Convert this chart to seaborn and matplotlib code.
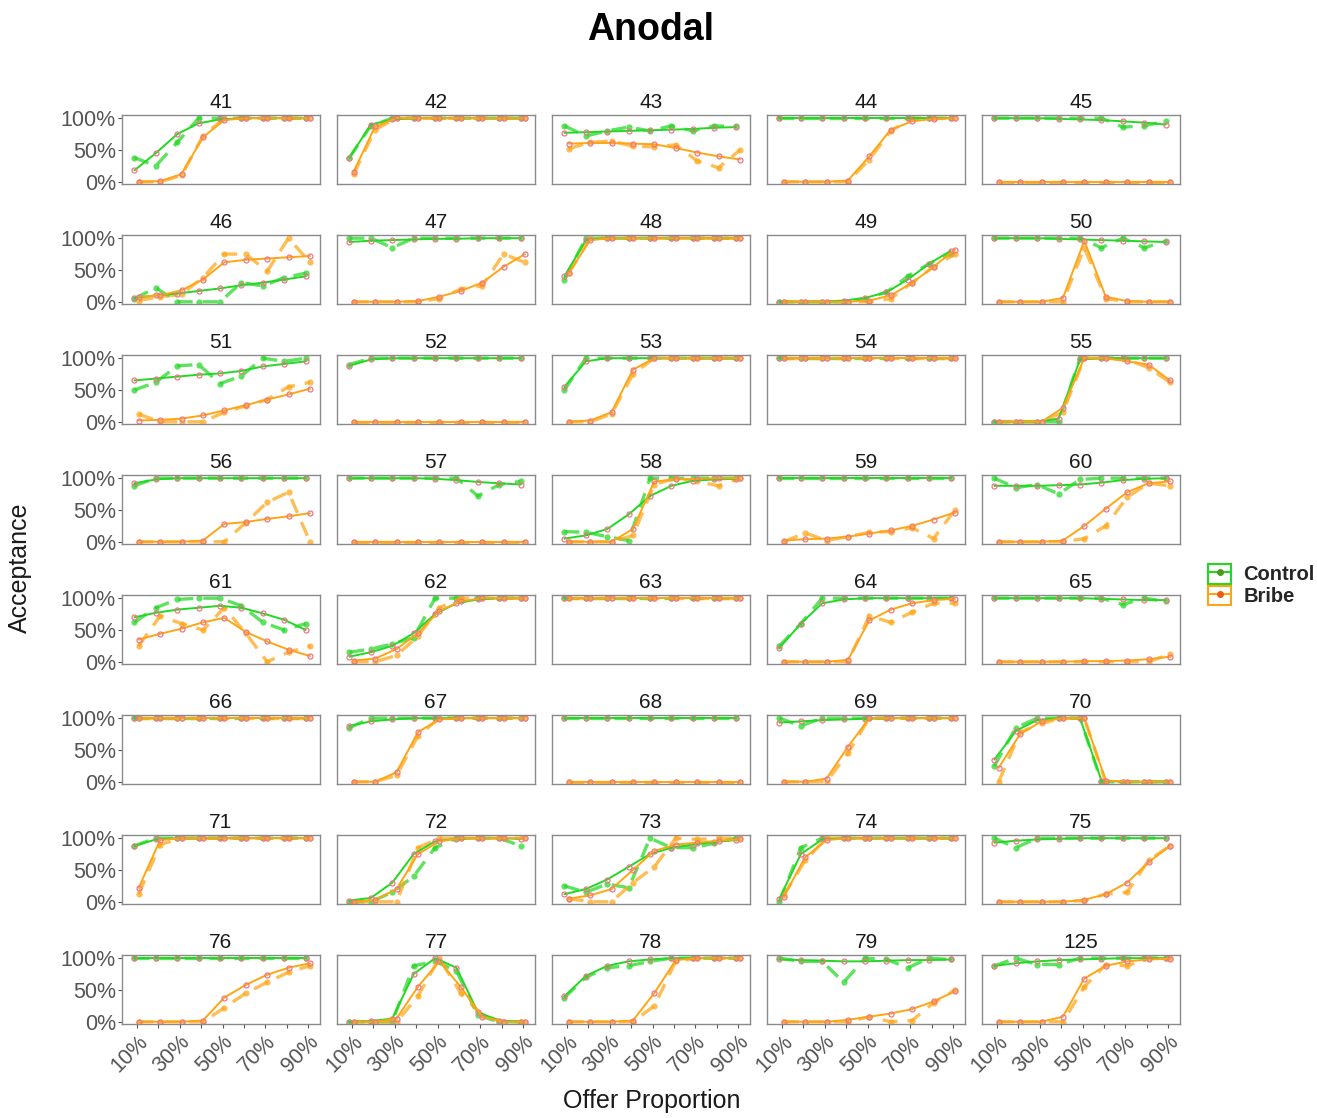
import numpy as np
import pandas as pd
import seaborn as sns
import matplotlib
matplotlib.use("Agg")
import matplotlib.pyplot as plt
from matplotlib.patches import Rectangle
from matplotlib.lines import Line2D
from matplotlib.legend_handler import HandlerTuple

offers = [0.1, 0.2, 0.3, 0.4, 0.5, 0.6, 0.7, 0.8, 0.9]
offer_labels = ["10%", "", "30%", "", "50%", "", "70%", "", "90%"]
subjects = ["41", "42", "43", "44", "45", "46", "47", "48", "49", "50",
            "51", "52", "53", "54", "55", "56", "57", "58", "59", "60",
            "61", "62", "63", "64", "65", "66", "67", "68", "69", "70",
            "71", "72", "73", "74", "75", "76", "77", "78", "79", "125"]

control_fitted = [
    [0.18, 0.45, 0.75, 0.92, 0.98, 1, 1, 1, 1],
    [0.38, 0.90, 0.98, 1, 1, 1, 1, 1, 1],
    [0.77, 0.78, 0.79, 0.80, 0.81, 0.82, 0.83, 0.85, 0.86],
    [1, 1, 1, 1, 1, 1, 1, 1, 1],
    [1, 1, 1, 0.99, 0.98, 0.97, 0.95, 0.93, 0.90],
    [0.06, 0.10, 0.13, 0.17, 0.21, 0.26, 0.30, 0.35, 0.40],
    [0.94, 0.96, 0.97, 0.98, 0.99, 0.99, 1, 1, 1],
    [0.40, 0.97, 1, 1, 1, 1, 1, 1, 1],
    [0, 0, 0, 0.02, 0.06, 0.15, 0.35, 0.60, 0.80],
    [1, 1, 1, 0.99, 0.98, 0.97, 0.96, 0.95, 0.94],
    [0.65, 0.68, 0.71, 0.74, 0.76, 0.80, 0.87, 0.91, 0.95],
    [0.88, 0.98, 1, 1, 1, 1, 1, 1, 1],
    [0.55, 0.95, 1, 1, 1, 1, 1, 1, 1],
    [1, 1, 1, 1, 1, 1, 1, 1, 1],
    [0, 0, 0, 0.05, 0.98, 1, 1, 1, 1],
    [0.92, 0.98, 1, 1, 1, 1, 1, 1, 1],
    [1, 1, 1, 1, 0.99, 0.97, 0.94, 0.92, 0.90],
    [0.05, 0.10, 0.20, 0.43, 0.72, 0.88, 0.96, 0.98, 0.99],
    [1, 1, 1, 1, 1, 1, 1, 1, 1],
    [0.88, 0.88, 0.88, 0.89, 0.90, 0.93, 0.97, 0.99, 1],
    [0.70, 0.77, 0.82, 0.85, 0.88, 0.85, 0.76, 0.66, 0.50],
    [0.08, 0.15, 0.25, 0.45, 0.75, 0.92, 0.98, 1, 1],
    [1, 1, 1, 1, 1, 1, 1, 1, 1],
    [0.22, 0.60, 0.92, 0.98, 1, 1, 1, 1, 1],
    [1, 1, 1, 1, 1, 0.99, 0.98, 0.97, 0.97],
    [1, 1, 1, 1, 1, 1, 1, 1, 1],
    [0.88, 0.95, 0.98, 1, 1, 1, 1, 1, 1],
    [1, 1, 1, 1, 1, 1, 1, 1, 1],
    [0.93, 0.95, 0.97, 0.98, 0.99, 1, 1, 1, 1],
    [0.35, 0.80, 0.97, 1, 1, 0.02, 0, 0, 0],
    [0.88, 0.98, 1, 1, 1, 1, 1, 1, 1],
    [0.02, 0.06, 0.30, 0.75, 0.95, 0.99, 1, 1, 0.99],
    [0.12, 0.20, 0.35, 0.55, 0.75, 0.85, 0.90, 0.94, 0.97],
    [0.05, 0.75, 0.98, 1, 1, 1, 1, 1, 1],
    [0.93, 0.96, 0.98, 0.99, 1, 1, 1, 1, 1],
    [1, 1, 1, 1, 1, 1, 1, 1, 1],
    [0, 0.01, 0.05, 0.75, 1, 0.85, 0.15, 0.02, 0],
    [0.40, 0.72, 0.88, 0.95, 0.98, 1, 1, 1, 1],
    [0.98, 0.97, 0.96, 0.95, 0.95, 0.96, 0.97, 0.97, 0.98],
    [0.88, 0.92, 0.95, 0.97, 0.98, 0.99, 1, 1, 1],
]

control_observed = [
    [0.38, 0.25, 0.62, 1, 1, 1, 1, 1, 1],
    [0.38, 0.88, 1, 1, 1, 1, 1, 1, 1],
    [0.88, 0.72, 0.80, 0.86, 0.80, 0.88, 0.80, 0.88, 0.87],
    [1, 1, 1, 1, 1, 1, 1, 1, 1],
    [1, 1, 1, 1, 1, 1, 0.86, 0.88, 0.95],
    [0.05, 0.22, 0.0, 0.0, 0.0, 0.30, 0.25, 0.38, 0.45],
    [1, 1, 0.85, 1, 1, 1, 1, 1, 1],
    [0.35, 1, 1, 1, 1, 1, 1, 1, 1],
    [0, 0, 0, 0, 0.05, 0.15, 0.40, 0.60, 0.75],
    [1, 1, 1, 1, 1, 0.85, 1, 0.85, 0.95],
    [0.50, 0.62, 0.88, 0.90, 0.60, 0.72, 1, 0.95, 1],
    [0.90, 1, 1, 1, 1, 1, 1, 1, 1],
    [0.50, 1, 1, 1, 1, 1, 1, 1, 1],
    [1, 1, 1, 1, 1, 1, 1, 1, 1],
    [0, 0, 0, 0, 1, 1, 1, 1, 1],
    [0.88, 1, 1, 1, 1, 1, 1, 1, 1],
    [1, 1, 1, 1, 1, 1, 0.72, 0.90, 0.95],
    [0.16, 0.15, 0.08, 0.02, 1, 1, 1, 1, 1],
    [1, 1, 1, 1, 1, 1, 1, 1, 1],
    [1, 0.85, 0.90, 0.75, 0.98, 1, 1, 1, 1],
    [0.62, 0.85, 0.98, 1, 1, 0.88, 0.62, 0.50, 0.60],
    [0.15, 0.20, 0.28, 0.38, 1, 1, 1, 1, 1],
    [1, 1, 1, 1, 1, 1, 1, 1, 1],
    [0.25, 0.60, 1, 1, 1, 1, 1, 1, 1],
    [1, 1, 1, 1, 1, 1, 0.90, 1, 0.95],
    [1, 1, 1, 1, 1, 1, 1, 1, 1],
    [0.85, 1, 1, 1, 1, 1, 1, 1, 1],
    [1, 1, 1, 1, 1, 1, 1, 1, 1],
    [1, 0.88, 1, 1, 1, 1, 1, 1, 1],
    [0.25, 0.85, 1, 1, 1, 0, 0, 0, 0],
    [0.88, 1, 1, 1, 1, 1, 1, 1, 1],
    [0, 0, 0.15, 0.40, 0.85, 1, 1, 1, 0.88],
    [0.25, 0.15, 0.28, 0.22, 1, 0.85, 0.85, 0.92, 1],
    [0, 0.85, 1, 1, 1, 1, 1, 1, 1],
    [1, 0.85, 1, 1, 1, 1, 1, 1, 1],
    [1, 1, 1, 1, 1, 1, 1, 1, 1],
    [0, 0, 0, 0.88, 0.95, 0.80, 0.10, 0, 0],
    [0.38, 0.70, 0.85, 0.88, 0.95, 1, 1, 1, 1],
    [1, 0.95, 0.95, 0.62, 1, 0.98, 0.85, 1, 0.98],
    [0.88, 1, 0.90, 0.90, 1, 1, 1, 1, 1],
]

bribe_fitted = [
    [0, 0.01, 0.12, 0.70, 0.97, 1, 1, 1, 1],
    [0.16, 0.87, 1, 1, 1, 1, 1, 1, 1],
    [0.60, 0.61, 0.61, 0.60, 0.59, 0.53, 0.46, 0.40, 0.35],
    [0, 0, 0, 0.02, 0.40, 0.82, 0.95, 0.99, 1],
    [0, 0, 0, 0, 0, 0, 0, 0, 0],
    [0.08, 0.10, 0.18, 0.35, 0.62, 0.66, 0.68, 0.70, 0.72],
    [0, 0, 0, 0.01, 0.08, 0.17, 0.30, 0.55, 0.75],
    [0.45, 0.97, 1, 1, 1, 1, 1, 1, 1],
    [0, 0, 0, 0, 0.02, 0.10, 0.30, 0.55, 0.82],
    [0, 0, 0, 0.06, 0.96, 0.08, 0.01, 0, 0],
    [0.02, 0.03, 0.05, 0.10, 0.18, 0.26, 0.35, 0.43, 0.52],
    [0, 0, 0, 0, 0, 0, 0, 0, 0],
    [0, 0.02, 0.15, 0.82, 1, 1, 1, 1, 1],
    [1, 1, 1, 1, 1, 1, 1, 1, 1],
    [0, 0, 0, 0.22, 1, 1, 0.95, 0.90, 0.65],
    [0, 0, 0, 0.02, 0.28, 0.31, 0.36, 0.40, 0.45],
    [0, 0, 0, 0, 0, 0, 0, 0, 0],
    [0, 0, 0, 0.20, 0.95, 0.98, 0.99, 1, 1],
    [0.02, 0.04, 0.05, 0.08, 0.13, 0.18, 0.25, 0.35, 0.46],
    [0, 0, 0, 0.02, 0.25, 0.52, 0.78, 0.92, 0.95],
    [0.35, 0.44, 0.52, 0.62, 0.69, 0.47, 0.32, 0.19, 0.09],
    [0.02, 0.05, 0.20, 0.45, 0.80, 0.95, 1, 1, 1],
    [1, 1, 1, 1, 1, 1, 1, 1, 1],
    [0, 0, 0, 0.03, 0.65, 0.82, 0.92, 0.97, 0.99],
    [0, 0, 0, 0, 0.01, 0.01, 0.02, 0.04, 0.08],
    [1, 1, 1, 1, 1, 1, 1, 1, 1],
    [0, 0, 0.15, 0.78, 0.98, 1, 1, 1, 1],
    [0, 0, 0, 0, 0, 0, 0, 0, 0],
    [0, 0, 0.05, 0.55, 1, 1, 1, 1, 1],
    [0.22, 0.75, 0.95, 1, 1, 0.02, 0, 0, 0],
    [0.22, 0.97, 1, 1, 1, 1, 1, 1, 1],
    [0, 0.03, 0.20, 0.75, 0.95, 1, 1, 1, 1],
    [0.05, 0.10, 0.20, 0.50, 0.80, 0.90, 0.93, 0.96, 0.98],
    [0.08, 0.70, 0.97, 1, 1, 1, 1, 1, 1],
    [0, 0, 0, 0, 0.03, 0.12, 0.30, 0.62, 0.88],
    [0, 0, 0, 0.02, 0.38, 0.58, 0.74, 0.85, 0.92],
    [0, 0, 0.05, 0.55, 0.95, 0.55, 0.08, 0, 0],
    [0, 0, 0, 0.02, 0.45, 0.97, 1, 1, 1],
    [0, 0, 0, 0.03, 0.08, 0.13, 0.20, 0.32, 0.48],
    [0, 0, 0, 0.08, 0.68, 0.88, 0.95, 0.98, 0.99],
]

bribe_observed = [
    [0, 0, 0.10, 0.72, 1, 1, 1, 1, 1],
    [0.12, 0.82, 1, 1, 1, 1, 1, 1, 1],
    [0.52, 0.62, 0.64, 0.56, 0.55, 0.58, 0.33, 0.22, 0.50],
    [0, 0, 0, 0, 0.35, 0.80, 1, 1, 1],
    [0, 0, 0, 0, 0, 0, 0, 0, 0],
    [0.02, 0.08, 0.12, 0.38, 0.75, 0.75, 0.48, 1.0, 0.62],
    [0, 0, 0, 0, 0.05, 0.20, 0.25, 0.75, 0.62],
    [0.45, 1, 1, 1, 1, 1, 1, 1, 1],
    [0, 0, 0, 0, 0, 0.05, 0.30, 0.55, 0.75],
    [0, 0, 0, 0, 0.85, 0.05, 0, 0, 0],
    [0.12, 0, 0, 0, 0.15, 0.25, 0.35, 0.55, 0.62],
    [0, 0, 0, 0, 0, 0, 0, 0, 0],
    [0, 0, 0.12, 0.75, 1, 1, 1, 1, 1],
    [1, 1, 1, 1, 1, 1, 1, 1, 1],
    [0, 0, 0, 0.15, 1, 1, 0.98, 0.85, 0.62],
    [0, 0, 0, 0, 0, 0.30, 0.62, 0.78, 0],
    [0, 0, 0, 0, 0, 0, 0, 0, 0],
    [0, 0, 0, 0.10, 0.90, 1, 0.95, 0.88, 1],
    [0, 0.14, 0.02, 0.08, 0.15, 0.16, 0.22, 0.05, 0.50],
    [0, 0, 0, 0, 0.05, 0.25, 0.70, 0.92, 0.88],
    [0.25, 0.72, 0.60, 0.50, 0.85, 0.45, 0, 0.15, 0.25],
    [0, 0, 0.10, 0.40, 0.85, 1, 1, 1, 1],
    [1, 1, 1, 1, 1, 1, 1, 1, 1],
    [0, 0, 0, 0, 0.72, 0.62, 0.78, 0.92, 0.92],
    [0, 0, 0, 0, 0, 0, 0, 0, 0.12],
    [1, 1, 1, 1, 1, 1, 1, 1, 1],
    [0, 0, 0.10, 0.72, 1, 1, 1, 1, 1],
    [0, 0, 0, 0, 0, 0, 0, 0, 0],
    [0, 0, 0, 0.45, 1, 1, 1, 1, 1],
    [0, 0.78, 0.92, 1, 1, 0, 0, 0, 0],
    [0.12, 0.90, 1, 1, 1, 1, 1, 1, 1],
    [0, 0, 0, 0.85, 1, 1, 1, 1, 1],
    [0.05, 0, 0, 0.30, 0.55, 1, 0.98, 1, 1],
    [0.10, 0.65, 1, 1, 1, 1, 1, 1, 1],
    [0, 0, 0, 0, 0.02, 0.12, 0.15, 0.65, 0.88],
    [0, 0, 0, 0, 0.22, 0.45, 0.62, 0.78, 0.88],
    [0, 0, 0, 0.40, 1, 0.45, 0.10, 0, 0],
    [0, 0, 0, 0, 0.25, 0.95, 1, 1, 1],
    [0, 0, 0, 0, 0.08, 0, 0.02, 0.30, 0.50],
    [0, 0, 0, 0, 0.55, 0.90, 0.88, 1, 1],
]

# ---------- long table ----------
rows = []
series = [("Control", "Fitted", control_fitted), ("Control", "Observed", control_observed),
          ("Bribe", "Fitted", bribe_fitted), ("Bribe", "Observed", bribe_observed)]
for grp, kind, table in series:
    for subj, vals in zip(subjects, table):
        for o, v in zip(offers, vals):
            rows.append((subj, grp, kind, o, v))
df = pd.DataFrame(rows, columns=["subject", "group", "kind", "offer", "value"])
dodge = {"Control": -0.012, "Bribe": 0.008}
df["xpos"] = df["offer"] + df["group"].map(dodge)

# ---------- style ----------
sns.set_theme(style="white")
plt.rcParams["font.family"] = ["Liberation Sans", "DejaVu Sans"]

colors = {"Control": "#22d822", "Bribe": "#ffa514"}
pink = "#ee7788"
tick_gray = "#555555"
frame_gray = "#8a8a8a"

W, H = 1317, 1118
fig = plt.figure(figsize=(W / 100, H / 100), dpi=100)

col_left = [122, 337, 552, 767, 982]
row_top = [115, 235, 355, 475, 595, 715, 835, 955]
pw, ph = 198, 69

for i, subj in enumerate(subjects):
    r, c = divmod(i, 5)
    ax = fig.add_axes([col_left[c] / W, 1 - (row_top[r] + ph) / H, pw / W, ph / H])
    d = df[df["subject"] == subj]
    for grp in ["Control", "Bribe"]:
        obs = d[(d["group"] == grp) & (d["kind"] == "Observed")]
        sns.lineplot(data=obs, x="xpos", y="value", ax=ax, color=colors[grp],
                     linestyle=(0, (4.5, 3.0)), lw=2.4, alpha=0.72,
                     marker="o", markersize=4.5, mew=0, mec=colors[grp],
                     legend=False, errorbar=None)
    for grp in ["Control", "Bribe"]:
        fit = d[(d["group"] == grp) & (d["kind"] == "Fitted")]
        sns.lineplot(data=fit, x="xpos", y="value", ax=ax, color=colors[grp],
                     lw=1.4, marker="o", markersize=3.6, mfc="none", mec=pink,
                     mew=0.9, legend=False, errorbar=None)
    ax.set_xlim(0.03, 0.955)
    ax.set_ylim(-0.035, 1.05)
    ax.set_xlabel("")
    ax.set_ylabel("")
    ax.set_title(subj, fontsize=15, color="#1a1a1a", pad=5)
    for s in ax.spines.values():
        s.set_color(frame_gray)
        s.set_linewidth(1.0)
    ax.set_yticks([0, 0.5, 1])
    ax.set_xticks(offers)
    if c == 0:
        ax.set_yticklabels(["0%", "50%", "100%"])
        ax.tick_params(axis="y", length=3, width=0.8, color=tick_gray,
                       labelsize=15.5, labelcolor=tick_gray, pad=1.5, left=True)
    else:
        ax.tick_params(axis="y", left=False, labelleft=False)
    if r == len(row_top) - 1:
        ax.set_xticklabels(offer_labels, rotation=45, ha="right", va="top",
                           rotation_mode="anchor")
        ax.tick_params(axis="x", length=3, width=0.8, color=tick_gray,
                       labelsize=15.5, labelcolor=tick_gray, pad=2, bottom=True)
    else:
        ax.tick_params(axis="x", bottom=False, labelbottom=False)

fig.text(651 / W, 1 - 30 / H, "Anodal", ha="center", va="center",
         fontsize=27, fontweight="bold", color="black")
fig.text(20 / W, 1 - 568 / H, "Acceptance", ha="center", va="center",
         rotation=90, fontsize=18, color="#1a1a1a")
fig.text(652 / W, 1 - 1101 / H, "Offer Proportion", ha="center", va="center",
         fontsize=18, color="#1a1a1a")

handles = []
for grp, dot in [("Control", "#4a9a1a"), ("Bribe", "#f05a14")]:
    box = Rectangle((0, 0), 1, 1, facecolor="white", edgecolor=colors[grp], lw=1.5)
    ln = Line2D([0], [0], color=colors[grp], lw=1.5, marker="o", markersize=4,
                mfc=dot, mec=dot)
    handles.append((box, ln))
leg = fig.legend(handles, ["Control", "Bribe"], loc="center left",
                 bbox_to_anchor=(1190 / W, 1 - 585 / H), frameon=False,
                 handler_map={tuple: HandlerTuple(ndivide=1, pad=0)},
                 handlelength=1.15, handleheight=1.15, handletextpad=0.6,
                 labelspacing=0.05, prop={"size": 14.5, "weight": "bold"})

fig.savefig("out.png", dpi=100)
